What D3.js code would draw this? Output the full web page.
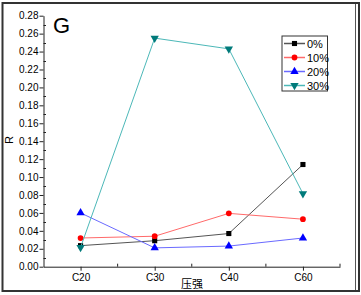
<!DOCTYPE html>
<html>
<head>
<meta charset="utf-8">
<script src="https://cdn.jsdelivr.net/npm/d3@7.9.0/dist/d3.min.js"></script>
<style>
  body { margin: 0; background: #fff; }
  text { font-family: "Liberation Sans", Arial, sans-serif; }
</style>
</head>
<body>
<svg id="chart" width="361" height="295"></svg>
<script>
const categories = ["C20", "C30", "C40", "C60"];
const seriesNames = ["0%", "10%", "20%", "30%"];
const v0  = [0.0235, 0.029, 0.037, 0.114];
const v10 = [0.032, 0.034, 0.0595, 0.053];
const v20 = [0.060, 0.021, 0.023, 0.032];
const v30 = [0.0215, 0.255, 0.243, 0.0815];
const yTicks = [0, 0.02, 0.04, 0.06, 0.08, 0.10, 0.12, 0.14, 0.16, 0.18, 0.20, 0.22, 0.24, 0.26, 0.28];

const svg = d3.select("#chart");

// frame
svg.append("rect")
  .attr("x", 2.5).attr("y", 3).attr("width", 356.5).attr("height", 288)
  .attr("fill", "none").attr("stroke", "#333").attr("stroke-width", 2);
svg.append("line")
  .attr("x1", 355.5).attr("x2", 355.5).attr("y1", 4).attr("y2", 290)
  .attr("stroke", "#555").attr("stroke-width", 1);

const x = d3.scaleLinear().domain([0.5, 4.5]).range([43.5, 340]);
const y = d3.scaleLinear().domain([0, 0.28]).range([266.7, 15.7]);

const styles = [
  { line: "#555", mark: "#000", shape: d3.symbolSquare, size: 26 },
  { line: "#ff6a6a", mark: "#ff0000", shape: d3.symbolCircle, size: 26 },
  { line: "#6a6aff", mark: "#0000ff", shape: d3.symbolTriangle, size: 30 },
  { line: "#4cb8b8", mark: "#007a7a", shape: d3.symbolTriangle, size: 30, flip: true }
];
const allSeries = [v0, v10, v20, v30];

// y axis
const yAxis = svg.append("g")
  .attr("transform", `translate(${x.range()[0]},0)`)
  .call(d3.axisLeft(y).tickValues(yTicks).tickFormat(d3.format(".2f")).tickSize(4).tickSizeOuter(0));
yAxis.selectAll("text").style("font-size", "10px").attr("fill", "#000").attr("x", -5);
yAxis.selectAll("line, path").attr("stroke", "#222");

// minor y ticks
const minorY = d3.range(0.01, 0.28, 0.02);
svg.append("g").selectAll("line").data(minorY).enter().append("line")
  .attr("x1", x.range()[0]).attr("x2", x.range()[0] + 2.5)
  .attr("y1", d => Math.round(y(d)) + 0.5).attr("y2", d => Math.round(y(d)) + 0.5)
  .attr("stroke", "#222");

// x axis
const xAxis = svg.append("g")
  .attr("transform", `translate(0,${y(0)})`)
  .call(d3.axisBottom(x).tickValues([1, 2, 3, 4]).tickFormat(d => categories[d - 1]).tickSize(4).tickSizeOuter(0));
xAxis.selectAll("text").style("font-size", "10px").attr("fill", "#000").attr("y", 7);
xAxis.selectAll("line, path").attr("stroke", "#222");

// minor x ticks (pointing up)
svg.append("g").selectAll("line").data([1.5, 2.5, 3.5, 4.5]).enter().append("line")
  .attr("x1", d => x(d)).attr("x2", d => x(d))
  .attr("y1", y(0)).attr("y2", y(0) - 3)
  .attr("stroke", "#222");

// axis titles
svg.append("text")
  .attr("transform", `translate(13,140) rotate(-90)`)
  .attr("text-anchor", "middle")
  .style("font-size", "11px")
  .text("R");
svg.append("text")
  .attr("x", 192).attr("y", 288)
  .attr("text-anchor", "middle")
  .style("font-family", "'Noto Sans CJK SC', sans-serif")
  .style("font-size", "11px")
  .text("压强");

svg.append("text")
  .attr("x", 53).attr("y", 33)
  .style("font-size", "22px")
  .text("G");

// series
const lineGen = d3.line().x((d, i) => x(i + 1)).y(d => y(d));
allSeries.forEach((vals, si) => {
  const st = styles[si];
  svg.append("path")
    .attr("d", lineGen(vals))
    .attr("fill", "none")
    .attr("stroke", st.line)
    .attr("stroke-width", 1);
  svg.append("g").selectAll("path").data(vals).enter().append("path")
    .attr("d", d3.symbol().type(st.shape).size(st.size))
    .attr("transform", (d, i) => `translate(${x(i + 1)},${y(d)})` + (st.flip ? " rotate(180)" : ""))
    .attr("fill", st.mark);
});

// legend
const lg = svg.append("g").attr("transform", "translate(282,36)");
lg.append("rect")
  .attr("x", 0).attr("y", 0).attr("width", 45.5).attr("height", 55)
  .attr("fill", "#fff").attr("stroke", "#333").attr("stroke-width", 1);
seriesNames.forEach((name, i) => {
  const st = styles[i];
  const cy = 7.5 + i * 14;
  lg.append("line")
    .attr("x1", 2).attr("x2", 23).attr("y1", cy).attr("y2", cy)
    .attr("stroke", st.line).attr("stroke-width", 1.5);
  lg.append("path")
    .attr("d", d3.symbol().type(st.shape).size(st.size))
    .attr("transform", `translate(12.5,${cy})` + (st.flip ? " rotate(180)" : ""))
    .attr("fill", st.mark);
  lg.append("text")
    .attr("x", 25).attr("y", cy + 4)
    .style("font-size", "11px")
    .text(name);
});
</script>
</body>
</html>
